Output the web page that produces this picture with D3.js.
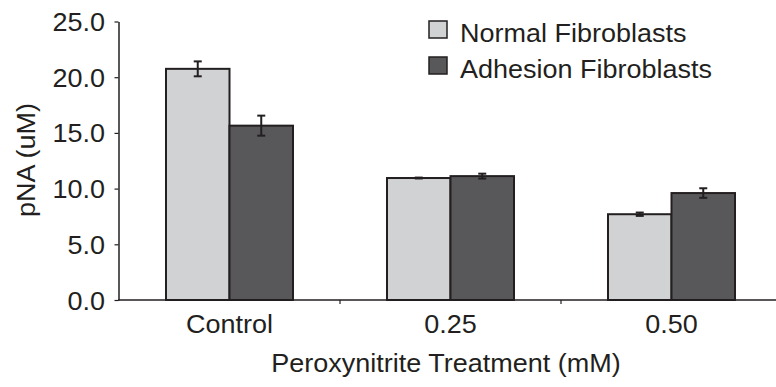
<!DOCTYPE html>
<html>
<head>
<meta charset="utf-8">
<script src="https://cdn.jsdelivr.net/npm/d3@7"></script>
<style>
  body { margin: 0; background: #fff; }
  svg text { font-family: "Liberation Sans", Arial, Helvetica, sans-serif; fill: #231f20; }
</style>
</head>
<body>
<script>
// values
var categories = ["Control", "0.25", "0.50"];
var seriesNames = ["Normal Fibroblasts", "Adhesion Fibroblasts"];
var normal = [20.75, 10.95, 7.7];
var normalErr = [0.67, 0.04, 0.15];
var adhesion = [15.65, 11.12, 9.6];
var adhesionErr = [0.9, 0.22, 0.43];
var yTicks = [0, 5, 10, 15, 20, 25];

var colors = ["#d1d2d4", "#58585a"];
var ink = "#231f20";
var stretch = 1.08; // the type in the figure is a little wider than Arial

var width = 776, height = 387;

var svg = d3.select("body").append("svg")
  .attr("width", width)
  .attr("height", height);

// puts a text at (px,py) stretched horizontally
function label(parent, px, py, str, anchor, size) {
  return parent.append("text")
    .attr("transform", "translate(" + px + "," + py + ") scale(" + stretch + ",1)")
    .attr("text-anchor", anchor)
    .attr("font-size", size)
    .text(str);
}

// scales
var y = d3.scaleLinear().domain([0, 25]).range([300, 21.5]);
var x = d3.scaleBand().domain(categories).range([119, 782]);
var xSub = d3.scaleBand().domain(seriesNames).range([0, 127]);
var groupOffset = (x.bandwidth() - 127) / 2;

var rows = categories.map(function(c, i) {
  return [
    {cat: c, series: seriesNames[0], value: normal[i], err: normalErr[i], color: colors[0]},
    {cat: c, series: seriesNames[1], value: adhesion[i], err: adhesionErr[i], color: colors[1]}
  ];
});
var flat = [].concat.apply([], rows);

// bars
svg.append("g").selectAll("rect")
  .data(flat)
  .enter()
  .append("rect")
  .attr("x", function(d) { return x(d.cat) + groupOffset + xSub(d.series); })
  .attr("y", function(d) { return y(d.value); })
  .attr("width", xSub.bandwidth())
  .attr("height", function(d) { return y(0) - y(d.value); })
  .attr("fill", function(d) { return d.color; })
  .attr("stroke", ink)
  .attr("stroke-width", 2);

// error bars
var eb = svg.append("g").attr("stroke", ink).attr("stroke-width", 2);
flat.forEach(function(d) {
  var cx = x(d.cat) + groupOffset + xSub(d.series) + xSub.bandwidth() / 2;
  var top = y(d.value + d.err), bot = y(d.value - d.err);
  eb.append("line").attr("x1", cx).attr("x2", cx).attr("y1", top).attr("y2", bot);
  eb.append("line").attr("x1", cx - 4).attr("x2", cx + 4).attr("y1", top).attr("y2", top);
  eb.append("line").attr("x1", cx - 4).attr("x2", cx + 4).attr("y1", bot).attr("y2", bot);
});

// y axis
var yAxis = svg.append("g")
  .attr("transform", "translate(118.5,0)")
  .call(d3.axisLeft(y).tickValues(yTicks).tickFormat(d3.format(".1f")).tickSize(4).tickSizeOuter(0));
yAxis.select(".domain").attr("stroke", ink).attr("stroke-width", 1.5);
yAxis.selectAll(".tick line").attr("stroke", ink).attr("stroke-width", 1.2);
yAxis.selectAll(".tick text")
  .attr("x", -13.5 / stretch)
  .attr("dy", "0.36em")
  .attr("transform", "scale(" + stretch + ",1)")
  .attr("font-size", 25)
  .attr("fill", ink)
  .style("font-family", null);

// x axis line + ticks at category boundaries
svg.append("line")
  .attr("x1", 118).attr("x2", width)
  .attr("y1", y(0)).attr("y2", y(0))
  .attr("stroke", ink).attr("stroke-width", 1.5);
svg.append("g").selectAll("line")
  .data(categories.slice(1))
  .enter()
  .append("line")
  .attr("x1", function(d) { return x(d); })
  .attr("x2", function(d) { return x(d); })
  .attr("y1", y(0)).attr("y2", y(0) + 4)
  .attr("stroke", ink).attr("stroke-width", 1.2);

var xLabels = svg.append("g");
categories.forEach(function(c) {
  label(xLabels, x(c) + x.bandwidth() / 2, 333, c, "middle", 25);
});

// axis titles
label(svg, 446, 372, "Peroxynitrite Treatment (mM)", "middle", 25);

svg.append("text")
  .attr("transform", "translate(35,160) rotate(-90) scale(" + stretch + ",1)")
  .attr("text-anchor", "middle")
  .attr("font-size", 25)
  .text("pNA (uM)");

// legend
var legend = svg.append("g");
seriesNames.forEach(function(name, i) {
  var row = legend.append("g").attr("transform", "translate(429," + (21 + i * 36) + ")");
  row.append("rect")
    .attr("width", 18).attr("height", 17)
    .attr("fill", colors[i])
    .attr("stroke", ink).attr("stroke-width", 1.5);
  label(row, 31, 20.5, name, "start", 25);
});
</script>
</body>
</html>
